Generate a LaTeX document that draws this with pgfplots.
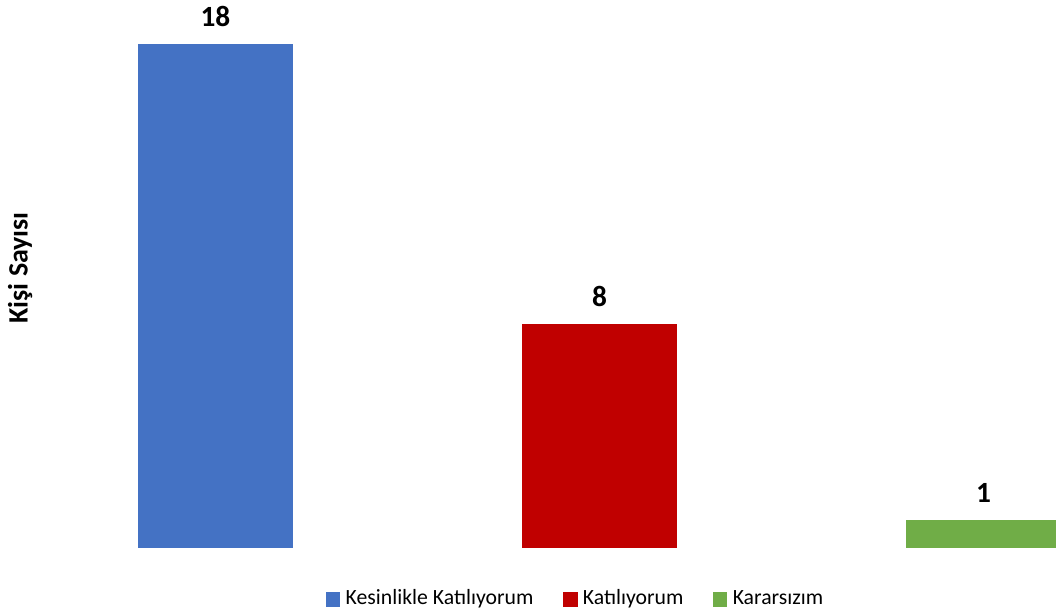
\documentclass[border=0pt]{standalone}
\usepackage{pgfplots}
\pgfplotsset{compat=1.18}
\usepackage{fontspec}
\setmainfont{Carlito}

\definecolor{cblue}{HTML}{4472C4}
\definecolor{cred}{HTML}{C00000}
\definecolor{cgreen}{HTML}{70AD47}

\begin{document}
\begin{tikzpicture}[x=1pt,y=1pt]
\useasboundingbox (0,0) rectangle (792,462);
\begin{axis}[
    at={(46.4pt,51pt)}, anchor=south west,
    scale only axis,
    width=745.6pt, height=409.5pt,
    xmin=-0.4, xmax=2.189,
    ymin=0, ymax=19.5,
    clip=true,
    ybar, bar width=116.25pt, bar shift=0pt,
    axis line style={draw=none},
    xtick=\empty, ytick=\empty,
    /pgf/number format/assume math mode=true,
    ylabel={\bfseries Kişi Sayısı},
    ylabel style={at={(axis description cs:-0.042,0.513)}, anchor=center, font=\fontsize{21}{25}\selectfont},
    nodes near coords,
    nodes near coords style={font=\bfseries\fontsize{22}{26}\selectfont, text=black, yshift=9.5pt},
    legend columns=3,
    legend style={draw=none, at={(0.517,-0.097)}, anchor=center,
        font=\fontsize{16.3}{19}\selectfont,
        nodes={text height=8.5pt, text depth=2.5pt},
        /tikz/every even column/.append style={column sep=20pt}},
    legend image code/.code={\fill[#1] (0pt,-4.5pt) rectangle (11pt,6.5pt);},
]
\addplot[fill=cblue, draw=none] coordinates {(0,18)};
\addlegendentry{\hspace{2pt}Kesinlikle Katılıyorum}
\addplot[fill=cred, draw=none] coordinates {(1,8)};
\addlegendentry{\hspace{2pt}Katılıyorum}
\addplot[fill=cgreen, draw=none] coordinates {(2,1)};
\addlegendentry{\hspace{2pt}Kararsızım}
\end{axis}
\end{tikzpicture}
\end{document}
